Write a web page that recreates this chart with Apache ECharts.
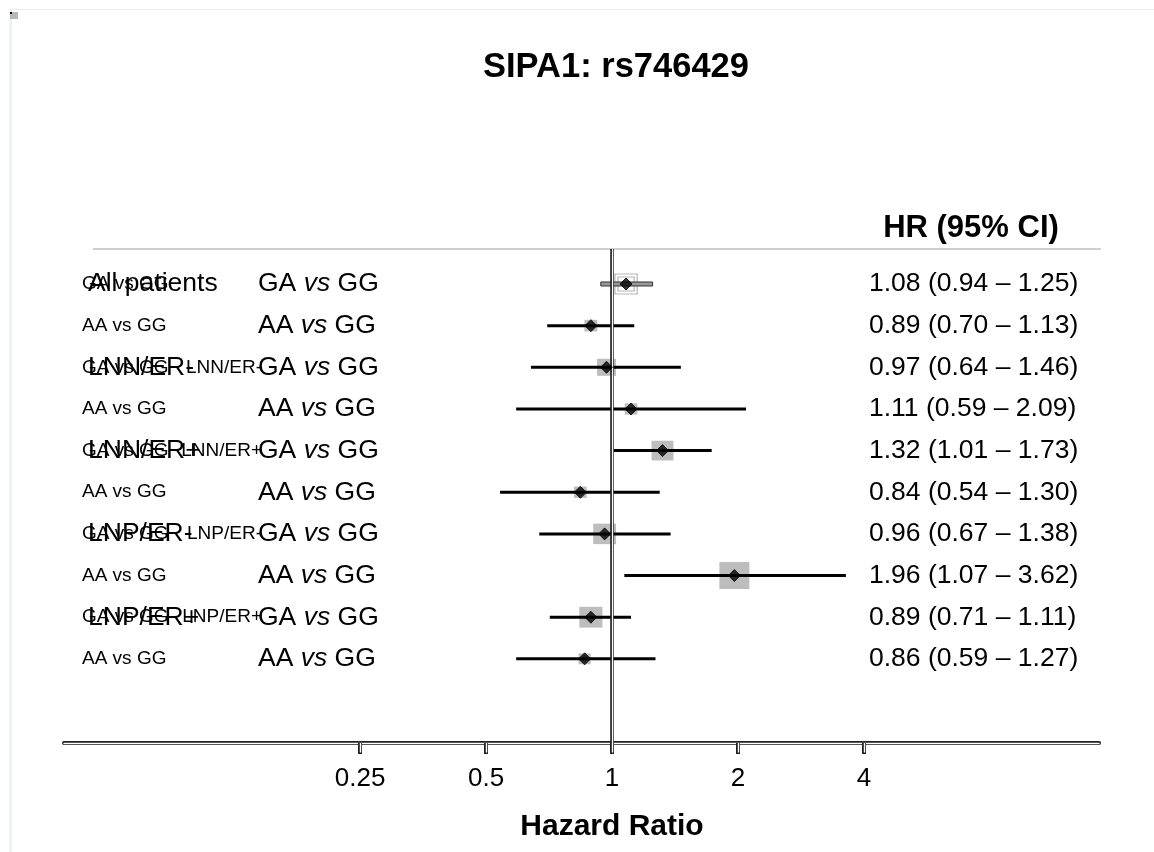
<!DOCTYPE html>
<html>
<head>
<meta charset="utf-8">
<title>SIPA1: rs746429</title>
<script src="https://cdn.jsdelivr.net/npm/echarts@6/dist/echarts.min.js"></script>
<style>
  html, body { margin: 0; padding: 0; background: #fff; }
  #myChart { width: 1154px; height: 852px; }
</style>
</head>
<body>
<div id="myChart"></div>
<script>
// 分组 / 比较
const groups = ['All patients', 'All patients', 'LNN/ER-', 'LNN/ER-', 'LNN/ER+', 'LNN/ER+', 'LNP/ER-', 'LNP/ER-', 'LNP/ER+', 'LNP/ER+']
const comparisons = ['GA vs GG', 'AA vs GG', 'GA vs GG', 'AA vs GG', 'GA vs GG', 'AA vs GG', 'GA vs GG', 'AA vs GG', 'GA vs GG', 'AA vs GG']
// HR 和 95% CI
const hr = [1.08, 0.89, 0.97, 1.11, 1.32, 0.84, 0.96, 1.96, 0.89, 0.86]
const ciLower = [0.94, 0.70, 0.64, 0.59, 1.01, 0.54, 0.67, 1.07, 0.71, 0.59]
const ciUpper = [1.25, 1.13, 1.46, 2.09, 1.73, 1.30, 1.38, 3.62, 1.11, 1.27]
// 方块权重 (相对)
const weights = [0.74, 0.43, 0.63, 0.42, 0.73, 0.42, 0.76, 1.0, 0.77, 0.4]
const xTicks = [0.25, 0.5, 1, 2, 4]

const FONT = '"Liberation Sans", Arial, Helvetica, sans-serif'
const summaryRow = 0
const rowY = (i) => i + 0.84
const log2 = (v) => Math.log2(v)
const fmt2 = (v) => v.toFixed(2)

let myChart = echarts.init(document.getElementById('myChart'))

let option = {
  animation: false,
  backgroundColor: '#fff',
  grid: { left: 64, right: 55, top: 249, bottom: 109 },
  /*x坐标轴 (log2)*/
  xAxis: [
    {
      type: 'value',
      min: -4.35,
      max: 3.865,
      position: 'bottom',
      axisLine: { show: true, onZero: false, lineStyle: { color: '#222', width: 4 } },
      axisTick: { show: true, customValues: xTicks.map(log2), length: 11, lineStyle: { color: '#222', width: 4 } },
      axisLabel: {
        show: true,
        customValues: xTicks.map(log2),
        formatter: (v) => String(+Math.pow(2, v).toFixed(2)),
        color: '#000',
        fontSize: 26,
        fontFamily: FONT,
        margin: 23,
      },
      splitLine: { show: false },
    },
    {
      // 白色内线, 做出空心轴线效果
      type: 'value',
      min: -4.35,
      max: 3.865,
      position: 'bottom',
      axisLine: { show: true, onZero: false, lineStyle: { color: '#fff', width: 1.4 } },
      axisTick: { show: true, customValues: xTicks.map(log2), length: 9.5, lineStyle: { color: '#fff', width: 1.4 } },
      axisLabel: { show: false },
      splitLine: { show: false },
    },
  ],
  yAxis: {
    type: 'value',
    min: 0,
    max: 11.86,
    inverse: true,
    show: false,
  },
  graphic: [
    // 外框
    { type: 'rect', shape: { x: 9, y: 10, width: 3, height: 842 }, style: { fill: '#eef4f4' }, silent: true },
    { type: 'line', shape: { x1: 9, y1: 9.5, x2: 1154, y2: 9.5 }, style: { stroke: '#ececec', lineWidth: 1 }, silent: true },
    { type: 'rect', shape: { x: 10, y: 12, width: 8, height: 7 }, style: { fill: '#b8b8b8' }, silent: true },
    { type: 'rect', shape: { x: 10, y: 12, width: 2, height: 2 }, style: { fill: '#000' }, silent: true },
    // 表头分隔线
    { type: 'line', shape: { x1: 93, y1: 249, x2: 1101, y2: 249 }, style: { stroke: '#cfcfcf', lineWidth: 2 }, silent: true },
    {
      type: 'text', x: 616, y: 67,
      style: { text: 'SIPA1: rs746429', font: 'bold 34.5px ' + FONT, fill: '#000', align: 'center', verticalAlign: 'middle', textAlign: 'center', textVerticalAlign: 'middle' },
    },
    {
      type: 'text', x: 971, y: 228,
      style: { text: 'HR (95% CI)', font: 'bold 31px ' + FONT, fill: '#000', align: 'center', verticalAlign: 'middle', textAlign: 'center', textVerticalAlign: 'middle' },
    },
    {
      type: 'text', x: 612, y: 827,
      style: { text: 'Hazard Ratio', font: 'bold 30px ' + FONT, fill: '#000', align: 'center', verticalAlign: 'middle', textAlign: 'center', textVerticalAlign: 'middle' },
    },
  ],
  series: [
    {
      // 方块
      type: 'custom',
      z: 2,
      data: hr.map((v, i) => [log2(v), rowY(i)]),
      renderItem: (params, api) => {
        const i = params.dataIndex
        const c = api.coord([api.value(0), api.value(1)])
        const w = weights[i] * 30
        const h = weights[i] * 27
        if (i === summaryRow) {
          return {
            type: 'group',
            children: [
              { type: 'rect', shape: { x: c[0] - w / 2, y: c[1] - h / 2, width: w, height: h }, style: { fill: 'none', stroke: '#b5b5b5', lineWidth: 1.2 } },
              { type: 'rect', shape: { x: c[0] - w / 2 + 3, y: c[1] - h / 2 + 3, width: w - 6, height: h - 6 }, style: { fill: 'none', stroke: '#b5b5b5', lineWidth: 1.2 } },
            ],
          }
        }
        return {
          type: 'rect',
          shape: { x: c[0] - w / 2, y: c[1] - h / 2, width: w, height: h },
          style: { fill: '#bdbdbd' },
        }
      },
    },
    {
      // 置信区间线
      type: 'custom',
      z: 3,
      data: hr.map((v, i) => [log2(ciLower[i]), log2(ciUpper[i]), rowY(i)]),
      renderItem: (params, api) => {
        const i = params.dataIndex
        const p1 = api.coord([api.value(0), api.value(2)])
        const p2 = api.coord([api.value(1), api.value(2)])
        if (i === summaryRow) {
          return {
            type: 'rect',
            shape: { x: p1[0], y: p1[1] - 2, width: p2[0] - p1[0], height: 4 },
            style: { fill: '#999', stroke: '#333', lineWidth: 1 },
          }
        }
        return {
          type: 'line',
          shape: { x1: p1[0], y1: p1[1], x2: p2[0], y2: p2[1] },
          style: { stroke: '#000', lineWidth: 3 },
        }
      },
    },
    {
      // HR = 1 参考线
      type: 'line',
      z: 4,
      data: [],
      markLine: {
        silent: true,
        symbol: 'none',
        label: { show: false },
        data: [
          { xAxis: 0, lineStyle: { color: '#222', width: 3.6, type: 'solid' } },
          { xAxis: 0, lineStyle: { color: '#fff', width: 1.2, type: 'solid' } },
        ],
      },
    },
    {
      // 点估计
      type: 'scatter',
      z: 5,
      symbol: 'diamond',
      symbolSize: 12,
      itemStyle: { color: '#000', borderColor: '#000', borderWidth: 1, borderJoin: 'round' },
      data: hr.map((v, i) => [log2(v), rowY(i)]),
    },
    {
      // 左侧标签 和 右侧 HR 文本
      type: 'custom',
      z: 6,
      data: hr.map((v, i) => [0, rowY(i)]),
      renderItem: (params, api) => {
        const i = params.dataIndex
        const y = api.coord([0, api.value(1)])[1]
        const parts = comparisons[i].split(' vs ')
        const isGroupRow = i % 2 === 0
        const children = [
          { type: 'text', style: { x: 82, y: y, text: comparisons[i], font: '19px ' + FONT, fill: '#000', align: 'left', verticalAlign: 'middle' } },
          {
            type: 'text',
            style: {
              x: 258, y: y,
              text: '{n|' + parts[0] + ' }{i|vs}{n| ' + parts[1] + '}',
              rich: {
                n: { font: '26.5px ' + FONT, fill: '#000' },
                i: { font: 'italic 26.5px ' + FONT, fill: '#000' },
              },
              align: 'left', verticalAlign: 'middle',
            },
          },
          {
            type: 'text',
            style: {
              x: 869, y: y,
              text: fmt2(hr[i]) + ' (' + fmt2(ciLower[i]) + ' \u2013 ' + fmt2(ciUpper[i]) + ')',
              font: '26.5px ' + FONT, fill: '#000', align: 'left', verticalAlign: 'middle',
            },
          },
        ]
        if (isGroupRow) {
          children.push({ type: 'text', style: { x: 88, y: y, text: groups[i], font: '26.5px ' + FONT, fill: '#000', align: 'left', verticalAlign: 'middle' } })
          if (i !== summaryRow) {
            children.push({ type: 'text', style: { x: 262, y: y, text: groups[i], font: '19px ' + FONT, fill: '#000', align: 'right', verticalAlign: 'middle' } })
          }
        }
        return { type: 'group', children: children }
      },
    },
  ],
}

myChart.setOption(option, true)
window.addEventListener('resize', () => {
  myChart.resize()
})
</script>
</body>
</html>
